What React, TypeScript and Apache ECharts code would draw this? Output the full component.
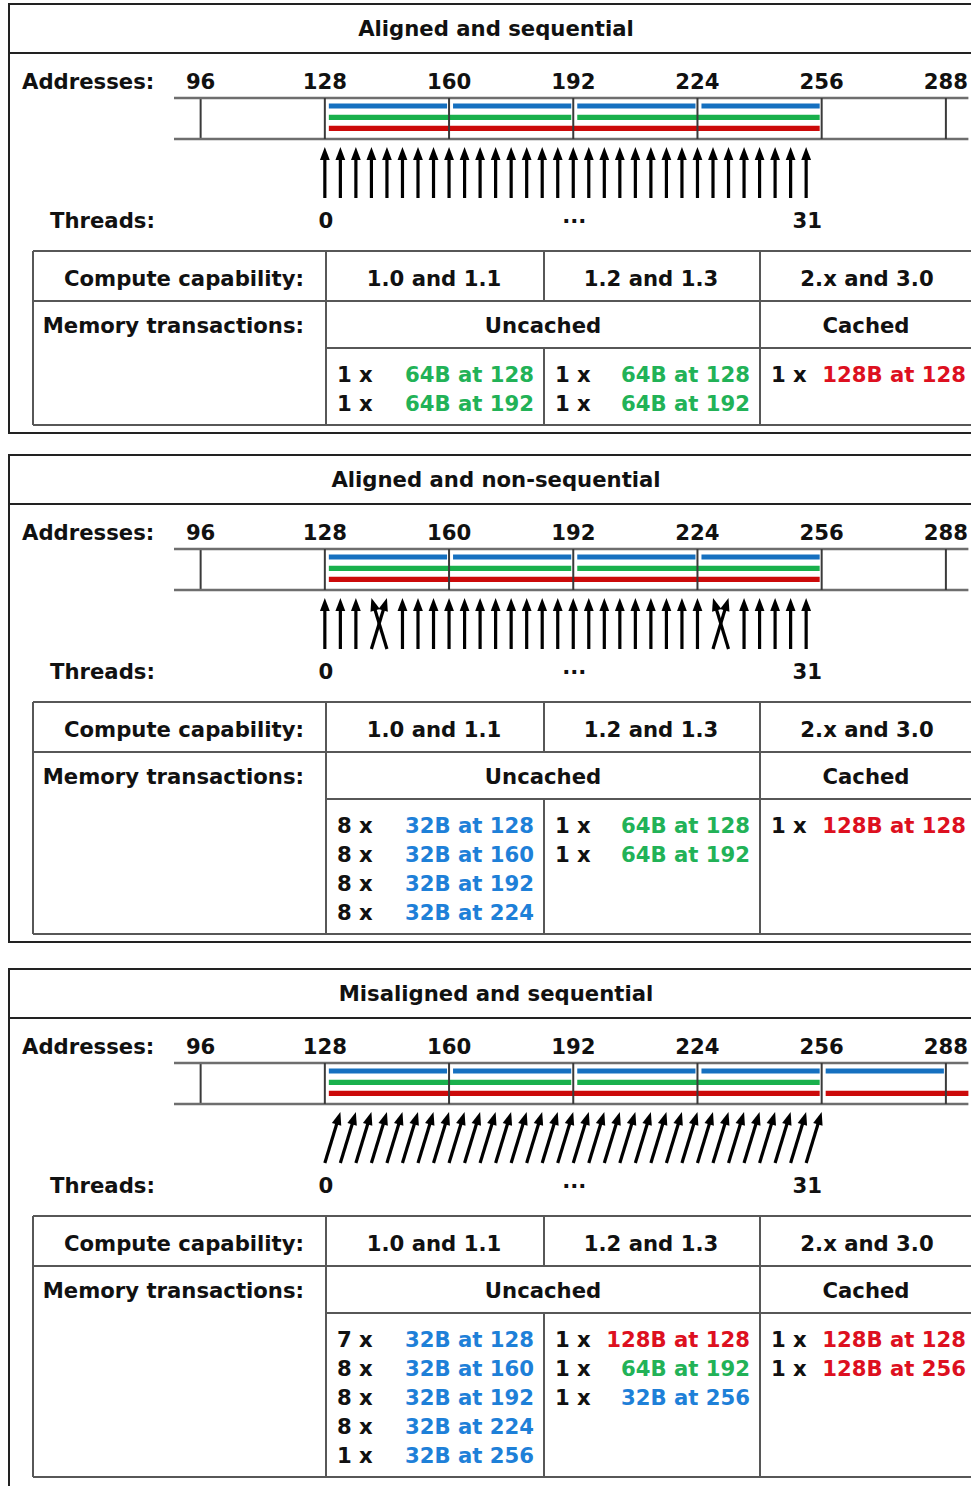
import React, { useEffect, useRef } from "react";
import * as echarts from "echarts";

// ---------- data ----------
const ADDRESS_TICKS = [96, 128, 160, 192, 224, 256, 288];
const THREAD_ADDR = [128, 132, 136, 140, 144, 148, 152, 156, 160, 164, 168, 172, 176, 180, 184, 188,
  192, 196, 200, 204, 208, 212, 216, 220, 224, 228, 232, 236, 240, 244, 248, 252];
const TARGET_SEQUENTIAL = [128, 132, 136, 140, 144, 148, 152, 156, 160, 164, 168, 172, 176, 180, 184, 188,
  192, 196, 200, 204, 208, 212, 216, 220, 224, 228, 232, 236, 240, 244, 248, 252];
const TARGET_NON_SEQUENTIAL = [128, 132, 136, 144, 140, 148, 152, 156, 160, 164, 168, 172, 176, 180, 184, 188,
  192, 196, 200, 204, 208, 212, 216, 220, 224, 232, 228, 236, 240, 244, 248, 252];
const TARGET_MISALIGNED = [132, 136, 140, 144, 148, 152, 156, 160, 164, 168, 172, 176, 180, 184, 188, 192,
  196, 200, 204, 208, 212, 216, 220, 224, 228, 232, 236, 240, 244, 248, 252, 256];
const THREAD_LABELS: [number, string][] = [[0, "0"], [16, "..."], [31, "31"]];

const PANEL_TITLES = ["Aligned and sequential", "Aligned and non-sequential", "Misaligned and sequential"];
const PANEL_TARGETS = [TARGET_SEQUENTIAL, TARGET_NON_SEQUENTIAL, TARGET_MISALIGNED];
const SEG32 = [[128, 160, 192, 224], [128, 160, 192, 224], [128, 160, 192, 224, 256]];
const SEG64 = [[128, 192], [128, 192], [128, 192]];
const SEG128 = [[128], [128], [128, 256]];

const CAPABILITIES = ["1.0 and 1.1", "1.2 and 1.3", "2.x and 3.0"];
const CACHE_MODES = ["Uncached", "Cached"];
// [count, bytes, address]
const TX_P1 = [
  [[1, 64, 128], [1, 64, 192]],
  [[1, 64, 128], [1, 64, 192]],
  [[1, 128, 128]],
];
const TX_P2 = [
  [[8, 32, 128], [8, 32, 160], [8, 32, 192], [8, 32, 224]],
  [[1, 64, 128], [1, 64, 192]],
  [[1, 128, 128]],
];
const TX_P3 = [
  [[7, 32, 128], [8, 32, 160], [8, 32, 192], [8, 32, 224], [1, 32, 256]],
  [[1, 128, 128], [1, 64, 192], [1, 32, 256]],
  [[1, 128, 128], [1, 128, 256]],
];
const PANEL_TX = [TX_P1, TX_P2, TX_P3];

// ---------- style / layout ----------
const W = 971;
const H = 1486;
const FONT = 'bold 21.2px "DejaVu Sans", sans-serif';
const TEXT = "#111";
const BAR_COLOR: Record<number, string> = { 32: "#1570c0", 64: "#19b04c", 128: "#cc0a0a" };
const TXT_COLOR: Record<number, string> = { 32: "#1e80d8", 64: "#22b257", 128: "#dd1020" };
const PANEL_TOP = [4, 455, 969];
const COL_X = [33, 326, 544, 760, 976];
const X_MIN = 89.14;
const X_MAX = 293.8;
// vertical lanes inside each grid (pixels from grid top)
const BOX_TOP = 0;
const BOX_BOTTOM = 41;
const LANE_Y = [8, 19.4, 30.4];
const ARROW_TOP = 49;
const ARROW_BOTTOM = 100;
const THREAD_Y = 122;

function buildOption() {
  const grid: any[] = [];
  const xAxis: any[] = [];
  const yAxis: any[] = [];
  const series: any[] = [];
  const graphic: any[] = [];

  PANEL_TOP.forEach((T, i) => {
    grid.push({ left: 174, right: 0, top: T + 94, height: 130 });
    xAxis.push({
      type: "value", gridIndex: i, min: X_MIN, max: X_MAX, position: "top",
      axisLine: { show: false }, axisTick: { show: false }, splitLine: { show: false },
      axisLabel: {
        customValues: ADDRESS_TICKS, margin: 17, verticalAlign: "middle",
        fontFamily: '"DejaVu Sans", sans-serif', fontWeight: "bold", fontSize: 21.2, color: TEXT,
      },
    });
    yAxis.push({ type: "value", gridIndex: i, min: 0, max: 130, inverse: true, show: false });

    // coloured segment bars
    const segData: number[][] = [
      ...SEG32[i].map((a) => [a, 32, 0]),
      ...SEG64[i].map((a) => [a, 64, 1]),
      ...SEG128[i].map((a) => [a, 128, 2]),
    ];
    series.push({
      type: "custom", coordinateSystem: "cartesian2d", xAxisIndex: i, yAxisIndex: i,
      data: segData, silent: true, z: 2,
      renderItem: (params: any, api: any) => {
        const start = api.value(0);
        const size = api.value(1);
        const lane = api.value(2);
        const p1 = api.coord([start, LANE_Y[lane]]);
        const p2 = api.coord([start + size, LANE_Y[lane]]);
        const cs = params.coordSys;
        const x1 = p1[0] + 4;
        const x2 = Math.min(p2[0] - 2, cs.x + cs.width);
        return {
          type: "rect",
          shape: { x: x1, y: p1[1] - 2.6, width: x2 - x1, height: 5.2 },
          style: { fill: BAR_COLOR[size] },
        };
      },
    });

    // address box and dividers
    series.push({
      type: "custom", coordinateSystem: "cartesian2d", xAxisIndex: i, yAxisIndex: i,
      data: ADDRESS_TICKS.map((a) => [a, 0]), silent: true, z: 3,
      renderItem: (params: any, api: any) => {
        const a = api.value(0);
        const top = api.coord([a, BOX_TOP]);
        const bot = api.coord([a, BOX_BOTTOM]);
        const children: any[] = [
          { type: "line", shape: { x1: top[0], y1: top[1], x2: bot[0], y2: bot[1] }, style: { stroke: "#3a3a3a", lineWidth: 2 } },
        ];
        if (params.dataIndex === 0) {
          const cs = params.coordSys;
          children.push({ type: "line", shape: { x1: cs.x, y1: top[1], x2: cs.x + cs.width, y2: top[1] }, style: { stroke: "#6e6e6e", lineWidth: 2.6 } });
          children.push({ type: "line", shape: { x1: cs.x, y1: bot[1], x2: cs.x + cs.width, y2: bot[1] }, style: { stroke: "#6e6e6e", lineWidth: 2.6 } });
        }
        return { type: "group", children };
      },
    });

    // thread arrows
    const targets = PANEL_TARGETS[i];
    series.push({
      type: "custom", coordinateSystem: "cartesian2d", xAxisIndex: i, yAxisIndex: i,
      data: THREAD_ADDR.map((a, k) => [a, targets[k], k]), silent: true, z: 4,
      renderItem: (params: any, api: any) => {
        const from = api.value(0);
        const to = api.value(1);
        const k = api.value(2);
        const b = api.coord([from, ARROW_BOTTOM]);
        const t = api.coord([to, ARROW_TOP]);
        const dx = t[0] - b[0];
        const dy = t[1] - b[1];
        const len = Math.sqrt(dx * dx + dy * dy);
        const ux = dx / len;
        const uy = dy / len;
        const L = 13;
        const hw = 4.9;
        const bx = t[0] - ux * L;
        const by = t[1] - uy * L;
        const nx = -uy;
        const ny = ux;
        const children: any[] = [
          { type: "line", shape: { x1: b[0], y1: b[1], x2: bx + ux * 2, y2: by + uy * 2 }, style: { stroke: "#000", lineWidth: 3.2 } },
          { type: "polygon", shape: { points: [[t[0], t[1]], [bx + nx * hw, by + ny * hw], [bx - nx * hw, by - ny * hw]] }, style: { fill: "#000" } },
        ];
        const lab = THREAD_LABELS.find((l) => l[0] === k);
        if (lab) {
          const p = api.coord([from, THREAD_Y]);
          const lift = lab[1] === "..." ? -5 : 0;
          children.push({ type: "text", x: p[0] + 1, y: p[1] + lift, style: { text: lab[1], font: FONT, fill: TEXT, align: "center", verticalAlign: "middle" } });
        }
        return { type: "group", children };
      },
    });

    // ---------- panel frame and table (layout graphics) ----------
    const tx = PANEL_TX[i];
    const n = Math.max(...tx.map((c) => c.length));
    const first = T + 370;
    const step = 29;
    const tTop = T + 247;
    const r1 = T + 297;
    const r2 = T + 344;
    const tBot = first + step * (n - 1) + 22;
    const pBot = i === PANEL_TOP.length - 1 ? H + 20 : tBot + 8;
    const dark = { stroke: "#222", lineWidth: 2 };
    const grey = { stroke: "#575757", lineWidth: 2 };
    const line = (x1: number, y1: number, x2: number, y2: number, style: any) =>
      ({ type: "line", silent: true, shape: { x1, y1, x2, y2 }, style });
    const text = (x: number, y: number, s: string, align: string, fill = TEXT) =>
      ({ type: "text", silent: true, x, y, style: { text: s, font: FONT, fill, align, verticalAlign: "middle" } });

    graphic.push({ type: "rect", silent: true, shape: { x: 9, y: T, width: 1000, height: pBot - T }, style: { fill: "none", ...dark } });
    graphic.push(line(9, T + 49, W, T + 49, dark));
    graphic.push(text(496, T + 24, PANEL_TITLES[i], "center"));
    graphic.push(text(22, T + 77, "Addresses:", "left"));
    graphic.push(text(50, T + 216, "Threads:", "left"));

    const [L0, C1, C2, C3, R] = COL_X;
    graphic.push(line(L0, tTop, R, tTop, grey));
    graphic.push(line(L0, r1, R, r1, grey));
    graphic.push(line(C1, r2, R, r2, grey));
    graphic.push(line(L0, tBot, R, tBot, grey));
    graphic.push(line(L0, tTop, L0, tBot, grey));
    graphic.push(line(C1, tTop, C1, tBot, grey));
    graphic.push(line(C2, tTop, C2, r1, grey));
    graphic.push(line(C2, r2, C2, tBot, grey));
    graphic.push(line(C3, tTop, C3, tBot, grey));

    graphic.push(text(304, T + 274, "Compute capability:", "right"));
    graphic.push(text(304, T + 321, "Memory transactions:", "right"));
    CAPABILITIES.forEach((c, j) => {
      graphic.push(text((COL_X[j + 1] + COL_X[j + 2]) / 2 - 1, T + 274, c, "center"));
    });
    graphic.push(text((C1 + C3) / 2, T + 321, CACHE_MODES[0], "center"));
    graphic.push(text((C3 + R) / 2 - 2, T + 321, CACHE_MODES[1], "center"));

    tx.forEach((col, j) => {
      const left = COL_X[j + 1];
      const right = COL_X[j + 2];
      col.forEach((row, r) => {
        const y = first + step * r;
        graphic.push(text(left + 11, y, `${row[0]} x`, "left"));
        graphic.push(text(right - 10, y, `${row[1]}B at ${row[2]}`, "right", TXT_COLOR[row[1]]));
      });
    });
  });

  return { animation: false, backgroundColor: "#fff", grid, xAxis, yAxis, series, graphic };
}

export default function App() {
  const ref = useRef<HTMLDivElement>(null);
  useEffect(() => {
    if (!ref.current) return;
    const chart = echarts.init(ref.current, undefined, { renderer: "svg" });
    chart.setOption(buildOption() as any);
    return () => chart.dispose();
  }, []);
  return <div ref={ref} style={{ position: "absolute", left: 0, top: 0, width: W, height: H }} />;
}
